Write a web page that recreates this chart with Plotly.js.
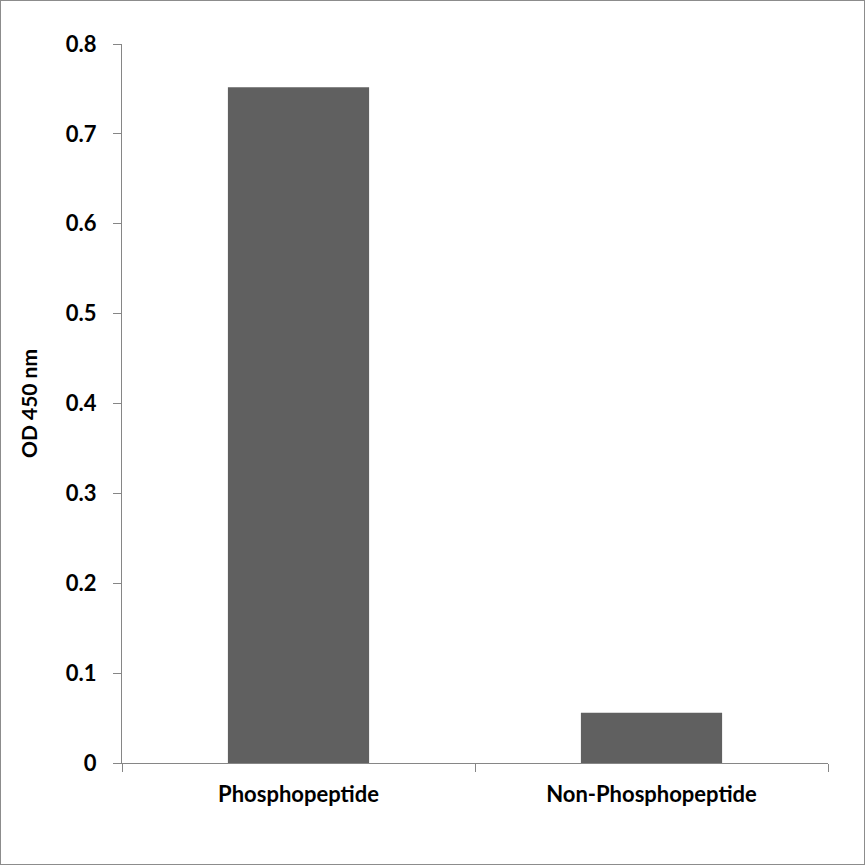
<!DOCTYPE html>
<html>
<head>
<meta charset="utf-8">
<script src="https://cdn.plot.ly/plotly-3.0.1.min.js"></script>
<style>
  html, body { margin: 0; padding: 0; background: #fff; }
  #frame { width: 865px; height: 865px; box-sizing: border-box; border: 1px solid #8c8c8c; }
  #plot { width: 863px; height: 863px; }
</style>
</head>
<body>
<div id="frame"><div id="plot"></div></div>
<script>
// OD 450 nm readings per peptide
const categories = ['Phosphopeptide', 'Non-Phosphopeptide'];
const odValues = [0.752, 0.056];
const yTicks = [0, 0.1, 0.2, 0.3, 0.4, 0.5, 0.6, 0.7, 0.8];

const FONT = 'Lato, "Open Sans", sans-serif';
const AXIS_GREY = '#868686';

const data = [{
    type: 'bar',
    x: categories,
    y: odValues,
    marker: { color: '#606060', line: { width: 0 } },
    hoverinfo: 'x+y'
}];

const layout = {
    width: 863, height: 863,
    margin: { l: 121, r: 36, t: 43, b: 101 },
    paper_bgcolor: '#fff',
    plot_bgcolor: '#fff',
    showlegend: false,
    bargap: 0.6,
    font: { family: FONT, color: '#000' },
    xaxis: {
        type: 'category',
        showline: true, linecolor: AXIS_GREY, linewidth: 1,
        ticks: 'outside', tickson: 'boundaries', ticklen: 8, tickcolor: AXIS_GREY,
        ticklabelstandoff: 12,
        showgrid: false, zeroline: false,
        tickfont: { family: FONT, size: 22, color: '#000', weight: 'bold' }
    },
    yaxis: {
        range: [0, 0.8],
        tickvals: yTicks,
        ticktext: yTicks.map(String),
        showline: true, linecolor: AXIS_GREY, linewidth: 1,
        ticks: 'outside', ticklen: 8, tickcolor: AXIS_GREY,
        ticklabelstandoff: 12,
        showgrid: false, zeroline: false,
        tickfont: { family: FONT, size: 22, color: '#000', weight: 'bold' },
        title: { text: 'OD 450 nm', standoff: 22,
                 font: { family: FONT, size: 21, color: '#000', weight: 'bold' } }
    }
};

Plotly.newPlot('plot', data, layout, { displayModeBar: false, staticPlot: true });
</script>
</body>
</html>
